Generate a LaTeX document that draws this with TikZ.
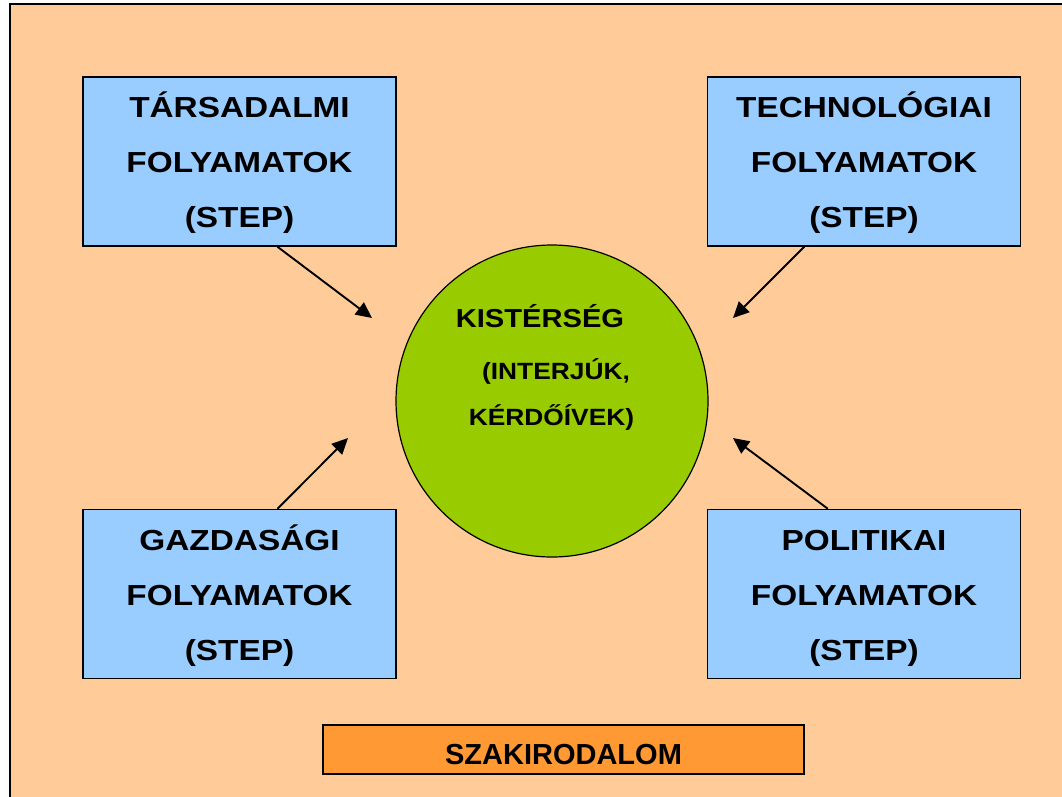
\documentclass[tikz,border=0pt]{standalone}
\usepackage{fontspec}
\setmainfont{Liberation Sans}
\newfontfamily\boxfont{Liberation Sans}[FakeStretch=1.15]
\newfontfamily\korfont{Liberation Sans}[FakeStretch=1.12]
\usetikzlibrary{arrows.meta}
\definecolor{hatter}{HTML}{FFCC99}
\definecolor{kekdoboz}{HTML}{99CCFF}
\definecolor{zoldkor}{HTML}{99CC00}
\definecolor{narancs}{HTML}{FF9933}

\begin{document}
\begin{tikzpicture}[x=1pt, y=-1pt,
    folyamat/.style = {draw, line width=1.5pt, fill=kekdoboz, inner sep=0pt,
      minimum width=313pt, minimum height=169pt, text width=313pt, align=center,
      text height=29pt, font=\boxfont\bfseries\fontsize{29}{55}\selectfont},
    kozep/.style = {anchor=base, inner sep=0pt, font=\korfont\bfseries\fontsize{#1}{#1}\selectfont},
    hatas/.style = {-{Triangle[length=16pt, width=15pt]}, line width=1.9pt}]
  \useasboundingbox (0,0) rectangle (1062,796);
  \clip (0,0) rectangle (1062,796);
  \fill[white] (0,0) rectangle (1062,796);
  \draw[line width=1.5pt, fill=hatter] (10,4) rectangle (1085,820);

  \node[folyamat] (tars) at (239.5,161.5) {TÁRSADALMI\\FOLYAMATOK\\(STEP)};
  \node[folyamat] (tech) at (864,161.5) {TECHNOLÓGIAI\\FOLYAMATOK\\(STEP)};
  \node[folyamat] (gazd) at (239.5,594) {GAZDASÁGI\\FOLYAMATOK\\(STEP)};
  \node[folyamat] (poli) at (864,594) {POLITIKAI\\FOLYAMATOK\\(STEP)};

  \node[draw, circle, line width=1.2pt, fill=zoldkor, minimum size=312pt] (kist) at (552,401) {};
  \node[kozep=26] (kist1) at (540,327) {KISTÉRSÉG};
  \node[kozep=23.5] (kist2) at (556,379) {(INTERJÚK,};
  \node[kozep=23.5] (kist3) at (551.5,425) {KÉRDŐÍVEK)};

  \node[draw, line width=1.5pt, fill=narancs, inner sep=0pt, minimum width=481pt,
    minimum height=49pt, text height=29pt, text depth=0pt,
    font=\bfseries\fontsize{29}{29}\selectfont] (szak) at (563.5,749.5) {SZAKIRODALOM};

  \coordinate (tarsvege) at (372,318);
  \coordinate (techvege) at (733,318);
  \coordinate (gazdvege) at (348,438);
  \coordinate (polivege) at (733,438);
  \draw[hatas] (tars.-66.6) -- (tarsvege);
  \draw[hatas] (tech.-125.4) -- (techvege);
  \draw[hatas] (gazd.66.5) -- (gazdvege);
  \draw[hatas] (poli.113.2) -- (polivege);
\end{tikzpicture}
\end{document}
